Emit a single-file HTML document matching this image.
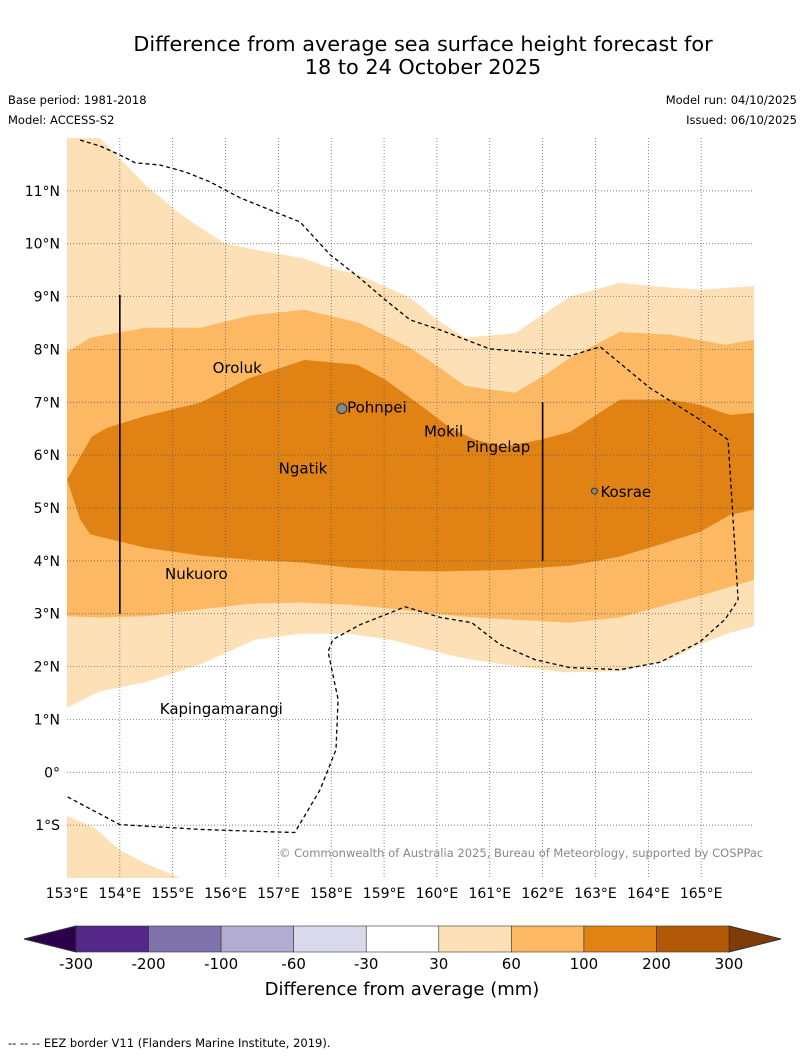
<!DOCTYPE html>
<html><head><meta charset="utf-8"><style>
body{margin:0;background:#fff;font-family:"DejaVu Sans","Liberation Sans",sans-serif;}
svg text{font-family:"DejaVu Sans","Liberation Sans",sans-serif;}
</style></head><body>
<svg id="chart" width="804" height="1058" xmlns="http://www.w3.org/2000/svg">
<text x="423" y="51" font-size="20.8" text-anchor="middle">Difference from average sea surface height forecast for</text>
<text x="423" y="74" font-size="20.8" text-anchor="middle">18 to 24 October 2025</text>
<text x="8" y="104" font-size="11.5">Base period: 1981-2018</text>
<text x="8" y="124" font-size="11.5">Model: ACCESS-S2</text>
<text x="797" y="104" font-size="11.5" text-anchor="end">Model run: 04/10/2025</text>
<text x="797" y="124" font-size="11.5" text-anchor="end">Issued: 06/10/2025</text>
<g id="map"></g>
<text x="279" y="857" font-size="11.5" fill="#888">© Commonwealth of Australia 2025, Bureau of Meteorology, supported by COSPPac</text>
<g id="cbar"></g>
<text x="402" y="995" font-size="18" text-anchor="middle">Difference from average (mm)</text>
<text x="8" y="1047" font-size="11.5">--  --  -- EEZ border V11 (Flanders Marine Institute, 2019).</text>
</svg>
<script>
const lonTicks=[153,154,155,156,157,158,159,160,161,162,163,164,165];
const latTicks=[11,10,9,8,7,6,5,4,3,2,1,0,-1];
const latLabels=["11°N","10°N","9°N","8°N","7°N","6°N","5°N","4°N","3°N","2°N","1°N","0°","1°S"];
const level30=[[153,12],[153.62,12],[154.5,11.1],[155.14,10.56],[155.99,10.0],[156.5,9.9],[157.5,9.72],[157.98,9.54],[158.5,9.42],[159.49,8.98],[160.06,8.52],[160.53,8.22],[161.48,8.31],[162.52,9.0],[163.46,9.26],[164.03,9.2],[165,9.13],[166,9.2],[166,2.76],[165.55,2.64],[164.98,2.42],[164.41,2.13],[163.46,1.91],[162.42,1.89],[161.38,2.02],[160.44,2.17],[159.68,2.36],[159.11,2.51],[158.35,2.62],[157.41,2.62],[156.56,2.51],[155.52,2.04],[154.48,1.70],[153.62,1.53],[153,1.22]];
const level30b=[[153,-0.82],[153.53,-1.06],[154.0,-1.47],[154.48,-1.72],[155.14,-2],[153,-2]];
const level60=[[153,7.95],[153.44,8.22],[154.48,8.41],[155.52,8.41],[156.46,8.64],[157.5,8.75],[158.54,8.5],[159.49,8.03],[160.06,7.65],[160.53,7.31],[161.48,7.18],[162.05,7.52],[162.52,7.84],[163.46,8.33],[164.41,8.28],[165.45,8.09],[166,8.18],[166,3.64],[164.98,3.34],[164.03,3.08],[163.46,2.93],[162.52,2.83],[161.38,2.89],[160.44,2.95],[159.3,3.08],[158.35,3.17],[157.41,3.21],[156.46,3.19],[155.52,3.08],[154.48,2.95],[153.57,2.93],[153,2.95]];
const level100=[[153,5.54],[153.47,6.35],[153.76,6.52],[154.48,6.74],[155.52,6.99],[156.46,7.46],[157.5,7.8],[158.49,7.71],[159.02,7.43],[159.68,6.95],[160.25,6.52],[160.72,6.29],[161.29,6.16],[161.95,6.29],[162.52,6.44],[163.46,7.05],[164.41,7.05],[164.98,6.95],[165.55,6.76],[166,6.8],[166,4.97],[165.55,4.87],[164.98,4.55],[164.03,4.25],[163.46,4.08],[162.52,3.91],[161.38,3.83],[160.06,3.80],[159.3,3.81],[158.35,3.87],[157.41,3.97],[156.46,4.02],[155.52,4.10],[154.48,4.25],[153.44,4.50],[153.25,4.78]];
const eez=[[153.25,11.96],[153.62,11.85],[154.0,11.68],[154.29,11.53],[154.76,11.49],[155.23,11.36],[155.71,11.17],[156.27,10.87],[156.84,10.64],[157.41,10.41],[157.98,9.79],[158.54,9.35],[159.02,8.94],[159.49,8.56],[160.06,8.37],[161.0,8.01],[162.52,7.88],[163.09,8.05],[164.03,7.27],[164.98,6.67],[165.51,6.29],[165.7,3.27],[165.64,3.17],[165.45,2.89],[164.98,2.47],[164.22,2.08],[163.46,1.94],[162.52,1.98],[161.86,2.13],[161.19,2.42],[160.66,2.83],[160.06,2.93],[159.4,3.13],[158.54,2.79],[158.03,2.51],[157.94,2.28],[158.13,1.38],[158.09,0.43],[157.79,-0.33],[157.31,-1.14],[156.65,-1.12],[155.52,-1.08],[154.0,-0.99],[153,-0.46]];
const islandNames=["Oroluk","Pohnpei","Mokil","Pingelap","Ngatik","Kosrae","Nukuoro","Kapingamarangi"];
const islandLon=[155.85,158.3,159.85,160.65,157.1,163.0,154.95,154.85];
const islandLat=[7.65,6.9,6.45,6.15,5.75,5.3,3.75,1.2];
const barLon=[154,162];const barTop=[9.03,7.0];const barBot=[3.0,4.0];
const cbLevels=["-300","-200","-100","-60","-30","30","60","100","200","300"];
const cbColors=["#542788","#8073ac","#b2abd2","#d8daeb","#ffffff","#fee0b6","#fdb863","#e08214","#b35806"];
const X0=67,X1=754,Y0=138,Y1=878,LON0=153,LON1=166,LAT0=12,LAT1=-2;
const xs=l=>X0+(l-LON0)/(LON1-LON0)*(X1-X0);
const ys=l=>Y0+(LAT0-l)/(LAT0-LAT1)*(Y1-Y0);
const NS="http://www.w3.org/2000/svg";
const map=document.getElementById('map');
function mk(t,a,p){const e=document.createElementNS(NS,t);for(const k in a)e.setAttribute(k,a[k]);(p||map).appendChild(e);return e;}
const pts=arr=>arr.map(p=>xs(p[0]).toFixed(1)+','+ys(p[1]).toFixed(1)).join(' ');
let e;
e=mk('polygon',{points:pts(level30),fill:"#fee0b6"});


e=mk('polygon',{points:pts(level30b),fill:"#fee0b6"});


e=mk('polygon',{points:pts(level60),fill:"#fdb863"});


e=mk('polygon',{points:pts(level100),fill:"#e08214"});


lonTicks.forEach((l,i)=>{
 if(i>0){e=mk('line',{x1:xs(l),x2:xs(l),y1:Y0,y2:Y1,stroke:"#555","stroke-width":0.7,"stroke-dasharray":"1,2"});
 
 }
 e=mk('text',{x:xs(l),y:Y1+20,"font-size":14,"text-anchor":"middle"});e.textContent=l+"°E";
 
 
});
latTicks.forEach((l,i)=>{
 e=mk('line',{x1:X0,x2:X1,y1:ys(l),y2:ys(l),stroke:"#555","stroke-width":0.7,"stroke-dasharray":"1,2"});
 
 
 e=mk('text',{x:X0-7,y:ys(l)+5,"font-size":14,"text-anchor":"end"});e.textContent=latLabels[i];
 
 
});
e=mk('polyline',{points:pts(eez),fill:"none",stroke:"#000","stroke-width":1.3,"stroke-dasharray":"4,3"});


barLon.forEach((l,i)=>{
 e=mk('line',{x1:xs(l),x2:xs(l),y1:ys(barTop[i]),y2:ys(barBot[i]),stroke:"#000","stroke-width":1.6});
 
 
});
e=mk('circle',{cx:xs(158.2),cy:ys(6.88),r:5,fill:"#888",stroke:"#333","stroke-width":1});


e=mk('circle',{cx:xs(162.98),cy:ys(5.32),r:3,fill:"#888",stroke:"#333","stroke-width":1});


islandNames.forEach((n,i)=>{
 const dx=n==="Pohnpei"?0:(n==="Kosrae"?5:-5);
 e=mk('text',{x:xs(islandLon[i])+dx,y:ys(islandLat[i])+5,"font-size":15});e.textContent=n;
 
 
});
const cb=document.getElementById('cbar');
const cx0=76,cx1=729,cy0=926,cy1=952,w=(cx1-cx0)/cbColors.length;
e=mk('polygon',{points:`24,939 ${cx0},${cy0} ${cx0},${cy1}`,fill:"#2d004b",stroke:"#333"},cb);


e=mk('polygon',{points:`781,939 ${cx1},${cy0} ${cx1},${cy1}`,fill:"#7f3b08",stroke:"#333"},cb);


cbColors.forEach((c,i)=>{
 e=mk('rect',{x:cx0+i*w,y:cy0,width:w,height:cy1-cy0,fill:c,stroke:"#333","stroke-width":0.6},cb);
 
 
});
cbLevels.forEach((t,i)=>{
 e=mk('text',{x:cx0+i*w,y:969,"font-size":15,"text-anchor":"middle"},cb);e.textContent=t;
 
 
});
</script>
</body></html>
